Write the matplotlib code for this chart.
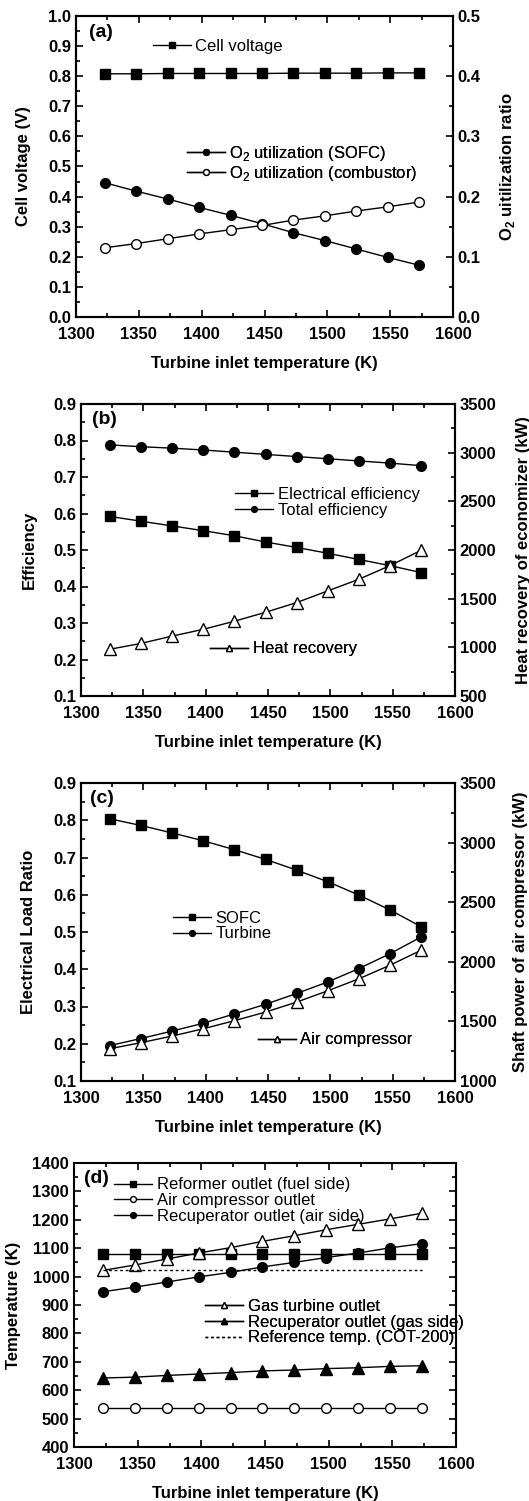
import matplotlib
matplotlib.use("Agg")
import matplotlib.pyplot as plt
from matplotlib.ticker import MultipleLocator

plt.rcParams['font.family'] = ['Liberation Sans', 'DejaVu Sans']
plt.rcParams['mathtext.fontset'] = 'custom'
plt.rcParams['mathtext.rm'] = 'Liberation Sans'
plt.rcParams['mathtext.bf'] = 'Liberation Sans:bold'
plt.rcParams['axes.linewidth'] = 1.5

# turbine inlet temperature (K)
tit = [1323, 1348, 1373, 1398, 1423, 1448, 1473, 1498, 1523, 1548, 1573]

# (a)
cell_voltage = [0.808, 0.808, 0.809, 0.809, 0.809, 0.809, 0.810, 0.810, 0.810, 0.811, 0.811]
o2_sofc = [0.223, 0.209, 0.196, 0.182, 0.169, 0.155, 0.140, 0.127, 0.113, 0.099, 0.086]
o2_comb = [0.115, 0.122, 0.130, 0.138, 0.145, 0.152, 0.161, 0.168, 0.176, 0.183, 0.191]

# (b)
eff_elec = [0.592, 0.579, 0.566, 0.553, 0.539, 0.522, 0.507, 0.491, 0.474, 0.457, 0.438]
eff_total = [0.788, 0.783, 0.779, 0.774, 0.768, 0.762, 0.756, 0.750, 0.744, 0.738, 0.731]
heat_rec = [980, 1040, 1115, 1185, 1268, 1360, 1460, 1580, 1700, 1840, 1998]

# (c)
load_sofc = [0.804, 0.786, 0.766, 0.745, 0.721, 0.695, 0.666, 0.635, 0.599, 0.559, 0.514]
load_turb = [0.195, 0.214, 0.234, 0.255, 0.280, 0.306, 0.335, 0.366, 0.402, 0.442, 0.487]
comp_power = [1271, 1321, 1377, 1438, 1506, 1578, 1662, 1757, 1858, 1972, 2098]

# (d)
t_reformer = [1081, 1081, 1081, 1081, 1081, 1081, 1081, 1081, 1081, 1081, 1081]
t_comp = [537, 537, 537, 537, 537, 537, 537, 537, 537, 537, 537]
t_recup_air = [947, 963, 981, 999, 1015, 1034, 1050, 1067, 1083, 1101, 1116]
t_gt_out = [1022, 1041, 1062, 1083, 1102, 1124, 1144, 1165, 1184, 1203, 1223]
t_recup_gas = [643, 646, 652, 657, 662, 668, 671, 676, 679, 684, 686]
t_ref = [1023, 1023, 1023, 1023, 1023, 1023, 1023, 1023, 1023, 1023, 1023]

W, H = 529, 1501
fig = plt.figure(figsize=(W / 100, H / 100), dpi=100)


def make_ax(x0, y0, x1, y1):
    return fig.add_axes([x0 / W, (H - y1) / H, (x1 - x0) / W, (y1 - y0) / H])


def style(ax, twin=False):
    ax.tick_params(which='both', direction='in', width=1.2, labelsize=12)
    ax.tick_params(which='major', length=5)
    ax.tick_params(which='minor', length=3)
    ax.tick_params(axis='x', pad=7)
    for lab in ax.get_xticklabels() + ax.get_yticklabels():
        lab.set_fontweight('bold')
    if twin:
        ax.tick_params(which='both', right=True, left=False, top=False, bottom=False)
    else:
        ax.tick_params(which='both', top=True, right=False)


def xaxis(ax):
    ax.set_xlim(1300, 1600)
    ax.xaxis.set_major_locator(MultipleLocator(50))
    ax.xaxis.set_minor_locator(MultipleLocator(25))
    ax.set_xlabel('Turbine inlet temperature (K)', fontsize=12, fontweight='bold', labelpad=10)


def leg(ax, handles, x, y):
    lg = ax.legend(handles=handles, loc='center left', bbox_to_anchor=(x, y), frameon=False,
                   fontsize=12, handlelength=2.3, handletextpad=0.25, labelspacing=0.05,
                   borderpad=0, borderaxespad=0, markerscale=0.6)
    ax.add_artist(lg)
    return lg


lk = dict(color='black', linewidth=1, markersize=7, markeredgewidth=1)
tk = dict(color='black', linewidth=1, markersize=8, markeredgewidth=1)

# ---------------- (a)
ax = make_ax(76, 16, 453, 317)
ax2 = ax.twinx()
xaxis(ax)
ax.set_ylim(0, 1.0)
ax.yaxis.set_major_locator(MultipleLocator(0.1))
ax.yaxis.set_minor_locator(MultipleLocator(0.05))
ax2.set_ylim(0, 0.5)
ax2.yaxis.set_major_locator(MultipleLocator(0.1))
ax2.yaxis.set_minor_locator(MultipleLocator(0.05))
h1, = ax.plot(tit, cell_voltage, marker='s', markerfacecolor='black', label='Cell voltage', **lk)
h2, = ax2.plot(tit, o2_sofc, marker='o', markerfacecolor='black', label='O$_2$ utilization (SOFC)', **lk)
h3, = ax2.plot(tit, o2_comb, marker='o', markerfacecolor='white', label='O$_2$ utilization (combustor)', **lk)
ax.set_ylabel('Cell voltage (V)', fontsize=12, fontweight='bold', labelpad=12)
ax2.set_ylabel(r'O$_\mathbf{2}$ uitilization ratio', fontsize=12, fontweight='bold', labelpad=12)
style(ax)
style(ax2, twin=True)
ax.text(0.035, 0.975, '(a)', transform=ax.transAxes, fontsize=14, fontweight='bold', va='top')
leg(ax2, [h1], 0.204, 0.90)
leg(ax2, [h2, h3], 0.294, 0.51)

# ---------------- (b)
ax = make_ax(81, 404, 455, 696)
ax2 = ax.twinx()
xaxis(ax)
ax.set_ylim(0.1, 0.9)
ax.yaxis.set_major_locator(MultipleLocator(0.1))
ax.yaxis.set_minor_locator(MultipleLocator(0.05))
ax2.set_ylim(500, 3500)
ax2.yaxis.set_major_locator(MultipleLocator(500))
ax2.yaxis.set_minor_locator(MultipleLocator(250))
h1, = ax.plot(tit, eff_elec, marker='s', markerfacecolor='black', label='Electrical efficiency', **lk)
h2, = ax.plot(tit, eff_total, marker='o', markerfacecolor='black', label='Total efficiency', **lk)
h3, = ax2.plot(tit, heat_rec, marker='^', markerfacecolor='white', label='Heat recovery', **tk)
ax.set_ylabel('Efficiency', fontsize=12, fontweight='bold', labelpad=12)
ax2.set_ylabel('Heat recovery of economizer (kW)', fontsize=12, fontweight='bold', labelpad=14)
style(ax)
style(ax2, twin=True)
ax.text(0.03, 0.975, '(b)', transform=ax.transAxes, fontsize=14, fontweight='bold', va='top')
leg(ax2, [h1, h2], 0.412, 0.662)
leg(ax2, [h3], 0.345, 0.161)

# ---------------- (c)
ax = make_ax(81, 783, 455, 1081)
ax2 = ax.twinx()
xaxis(ax)
ax.set_ylim(0.1, 0.9)
ax.yaxis.set_major_locator(MultipleLocator(0.1))
ax.yaxis.set_minor_locator(MultipleLocator(0.05))
ax2.set_ylim(1000, 3500)
ax2.yaxis.set_major_locator(MultipleLocator(500))
ax2.yaxis.set_minor_locator(MultipleLocator(250))
h1, = ax.plot(tit, load_sofc, marker='s', markerfacecolor='black', label='SOFC', **lk)
h2, = ax.plot(tit, load_turb, marker='o', markerfacecolor='black', label='Turbine', **lk)
h3, = ax2.plot(tit, comp_power, marker='^', markerfacecolor='white', label='Air compressor', **tk)
ax.set_ylabel('Electrical Load Ratio', fontsize=12, fontweight='bold', labelpad=12)
ax2.set_ylabel('Shaft power of air compressor (kW)', fontsize=12, fontweight='bold', labelpad=12)
style(ax)
style(ax2, twin=True)
ax.text(0.025, 0.975, '(c)', transform=ax.transAxes, fontsize=14, fontweight='bold', va='top')
leg(ax2, [h1, h2], 0.246, 0.52)
leg(ax2, [h3], 0.473, 0.138)

# ---------------- (d)
ax = make_ax(74, 1163, 456, 1447)
xaxis(ax)
ax.set_ylim(400, 1400)
ax.yaxis.set_major_locator(MultipleLocator(100))
ax.yaxis.set_minor_locator(MultipleLocator(50))
h1, = ax.plot(tit, t_reformer, marker='s', markerfacecolor='black', label='Reformer outlet (fuel side)', **lk)
h2, = ax.plot(tit, t_comp, marker='o', markerfacecolor='white', label='Air compressor outlet', **lk)
h3, = ax.plot(tit, t_recup_air, marker='o', markerfacecolor='black', label='Recuperator outlet (air side)', **lk)
h4, = ax.plot(tit, t_gt_out, marker='^', markerfacecolor='white', label='Gas turbine outlet', **tk)
h5, = ax.plot(tit, t_recup_gas, marker='^', markerfacecolor='black', label='Recuperator outlet (gas side)', **tk)
h6, = ax.plot(tit, t_ref, color='black', linewidth=1, linestyle=(0, (2, 2)), label='Reference temp. (COT-200)')
ax.set_ylabel('Temperature (K)', fontsize=12, fontweight='bold', labelpad=8)
style(ax)
ax.tick_params(which='both', right=True)
ax.text(0.025, 0.975, '(d)', transform=ax.transAxes, fontsize=14, fontweight='bold', va='top')
leg(ax, [h1, h2, h3], 0.105, 0.867)
leg(ax, [h4, h5, h6], 0.343, 0.44)

fig.savefig('out.png', dpi=100)
